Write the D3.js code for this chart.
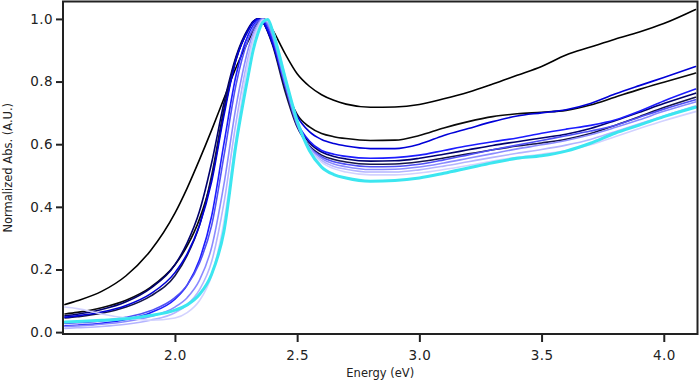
<!DOCTYPE html>
<html>
<head>
<meta charset="utf-8">
<script src="https://cdn.jsdelivr.net/npm/d3@7"></script>
<style>
  html, body { margin: 0; padding: 0; background: #fff; }
  svg { display: block; }
  text { font-family: "DejaVu Sans", Verdana, sans-serif; fill: #222; }
</style>
</head>
<body>
<div id="chart"></div>
<script>
// ---- data ----
const energy = [1.55,1.6,1.7,1.8,1.9,2.0,2.05,2.1,2.15,2.2,2.25,2.3,2.32,2.34,2.36,2.38,2.4,2.45,2.5,2.55,2.6,2.65,2.7,2.8,2.9,3.0,3.1,3.2,3.3,3.4,3.5,3.6,3.7,3.8,3.9,4.0,4.13];

const spectrum1  = [0.088,0.1,0.13,0.18,0.26,0.38,0.46,0.55,0.645,0.745,0.845,0.93,0.96,0.99,1.0,0.99,0.965,0.89,0.825,0.785,0.758,0.74,0.728,0.718,0.719,0.727,0.745,0.766,0.792,0.82,0.848,0.885,0.91,0.935,0.958,0.985,1.03];
const spectrum2  = [0.058,0.063,0.078,0.102,0.143,0.215,0.275,0.36,0.49,0.7,0.87,0.965,0.99,1.0,0.99,0.965,0.93,0.79,0.695,0.655,0.634,0.624,0.618,0.612,0.613,0.628,0.652,0.672,0.688,0.697,0.702,0.708,0.725,0.75,0.775,0.798,0.827];
const spectrum3  = [0.048,0.052,0.064,0.085,0.122,0.19,0.25,0.34,0.48,0.69,0.87,0.965,0.99,1.0,0.99,0.96,0.92,0.79,0.69,0.64,0.615,0.602,0.594,0.586,0.586,0.6,0.628,0.65,0.672,0.69,0.7,0.71,0.73,0.76,0.787,0.813,0.848];
const spectrum4  = [0.02,0.022,0.028,0.04,0.062,0.105,0.15,0.23,0.37,0.6,0.82,0.95,0.98,0.997,0.995,0.97,0.93,0.79,0.67,0.61,0.58,0.568,0.561,0.555,0.557,0.565,0.58,0.595,0.608,0.62,0.635,0.648,0.66,0.677,0.705,0.738,0.776];
const spectrum5  = [0.052,0.057,0.072,0.097,0.14,0.215,0.285,0.385,0.54,0.73,0.88,0.97,0.992,1.0,0.99,0.96,0.92,0.78,0.665,0.605,0.575,0.561,0.553,0.546,0.547,0.555,0.568,0.582,0.596,0.608,0.62,0.632,0.65,0.675,0.702,0.73,0.763];
const spectrum6  = [0.045,0.049,0.06,0.08,0.115,0.18,0.245,0.34,0.5,0.71,0.875,0.965,0.99,1.0,0.99,0.958,0.915,0.77,0.655,0.595,0.565,0.551,0.543,0.536,0.537,0.544,0.556,0.569,0.582,0.594,0.604,0.616,0.634,0.66,0.688,0.717,0.75];
const spectrum7  = [0.028,0.03,0.036,0.047,0.068,0.11,0.15,0.22,0.34,0.56,0.79,0.935,0.97,0.993,1.0,0.98,0.94,0.79,0.66,0.592,0.56,0.544,0.536,0.528,0.529,0.536,0.55,0.566,0.582,0.597,0.612,0.627,0.642,0.66,0.686,0.712,0.742];
const spectrum8  = [0.018,0.02,0.025,0.034,0.05,0.08,0.11,0.165,0.27,0.47,0.72,0.905,0.955,0.985,1.0,0.985,0.945,0.8,0.665,0.59,0.555,0.537,0.528,0.519,0.52,0.527,0.54,0.555,0.57,0.585,0.598,0.612,0.63,0.653,0.678,0.705,0.735];
const spectrum9  = [0.012,0.014,0.018,0.025,0.038,0.062,0.088,0.135,0.225,0.41,0.67,0.88,0.94,0.978,0.998,0.99,0.955,0.81,0.67,0.585,0.548,0.529,0.52,0.511,0.511,0.518,0.53,0.544,0.558,0.571,0.583,0.597,0.615,0.64,0.665,0.69,0.722];
const spectrum10 = [0.08,0.075,0.058,0.045,0.038,0.045,0.062,0.1,0.18,0.35,0.62,0.86,0.93,0.972,0.996,0.995,0.965,0.82,0.675,0.585,0.543,0.522,0.511,0.502,0.502,0.508,0.519,0.532,0.546,0.558,0.568,0.58,0.598,0.624,0.65,0.675,0.704];
const spectrum11 = [0.032,0.034,0.038,0.043,0.053,0.07,0.087,0.12,0.185,0.32,0.6,0.82,0.9,0.955,0.99,0.998,0.96,0.815,0.675,0.58,0.527,0.503,0.492,0.482,0.484,0.492,0.507,0.524,0.541,0.555,0.563,0.578,0.603,0.635,0.661,0.688,0.718];

const xTicks = [2.0, 2.5, 3.0, 3.5, 4.0];
const yTicks = [0.0, 0.2, 0.4, 0.6, 0.8, 1.0];
const xLabel = "Energy (eV)";
const yLabel = "Normalized Abs. (A.U.)";

// ---- styles (drawing order) ----
const series = [
  { values: spectrum1,  color: "#000000", width: 1.6 },
  { values: spectrum2,  color: "#0a0a0a", width: 1.6 },
  { values: spectrum5,  color: "#00006e", width: 1.6 },
  { values: spectrum6,  color: "#15154a", width: 1.6 },
  { values: spectrum3,  color: "#0000d8", width: 1.6 },
  { values: spectrum4,  color: "#1c1cff", width: 1.6 },
  { values: spectrum7,  color: "#5050f5", width: 1.6 },
  { values: spectrum8,  color: "#8a8aff", width: 1.6 },
  { values: spectrum9,  color: "#b4b4ff", width: 1.6 },
  { values: spectrum10, color: "#d2d2ff", width: 1.6 },
  { values: spectrum11, color: "#3ce6f0", width: 3.0 }
];

// ---- layout ----
const W = 700, H = 382;
const mLeft = 63, mRight = 697.5, mTop = 1.5, mBottom = 334;

const svg = d3.select("#chart").append("svg")
  .attr("width", W).attr("height", H);

const x = d3.scaleLinear().domain([1.542, 4.14]).range([mLeft, mRight + 0.5]);
const y = d3.scaleLinear().domain([-0.006, 1.054]).range([mBottom, mTop + 0.5]);

svg.append("clipPath").attr("id", "clip")
  .append("rect").attr("x", mLeft).attr("y", mTop).attr("width", mRight - mLeft).attr("height", mBottom - mTop);

const line = d3.line()
  .x((d, i) => x(energy[i]))
  .y(d => y(d))
  .curve(d3.curveMonotoneX);

const g = svg.append("g").attr("clip-path", "url(#clip)");
g.selectAll("path.spec").data(series).enter().append("path")
  .attr("class", "spec")
  .attr("d", d => line(d.values))
  .attr("fill", "none")
  .attr("stroke", d => d.color)
  .attr("stroke-width", d => d.width)
  .attr("stroke-linejoin", "round")
  .attr("stroke-linecap", "round");

// frame
svg.append("rect")
  .attr("x", mLeft).attr("y", mTop)
  .attr("width", mRight - mLeft).attr("height", mBottom - mTop)
  .attr("fill", "none").attr("stroke", "#222").attr("stroke-width", 2);

// axes
const xAxis = d3.axisBottom(x).tickValues(xTicks).tickFormat(d3.format(".1f"))
  .tickSize(8).tickSizeOuter(0).tickPadding(8);
const gx = svg.append("g").attr("transform", `translate(0,${mBottom})`).call(xAxis);
gx.select(".domain").remove();
gx.selectAll(".tick line").attr("stroke", "#222").attr("stroke-width", 2);
gx.selectAll(".tick text").attr("font-size", 13.5).attr("fill", "#222")
  .style("font-family", "'DejaVu Sans', Verdana, sans-serif").style("letter-spacing", "0.4px");

const yAxis = d3.axisLeft(y).tickValues(yTicks).tickFormat(d3.format(".1f"))
  .tickSize(7).tickSizeOuter(0).tickPadding(3);
const gy = svg.append("g").attr("transform", `translate(${mLeft},0)`).call(yAxis);
gy.select(".domain").remove();
gy.selectAll(".tick line").attr("stroke", "#222").attr("stroke-width", 2);
gy.selectAll(".tick text").attr("font-size", 13.5).attr("fill", "#222")
  .style("font-family", "'DejaVu Sans', Verdana, sans-serif").style("letter-spacing", "0.4px");

// axis titles
svg.append("text")
  .attr("x", (mLeft + mRight) / 2).attr("y", 377)
  .attr("text-anchor", "middle").attr("font-size", 11.5)
  .text(xLabel);

svg.append("text")
  .attr("transform", `translate(12,${(mTop + mBottom) / 2}) rotate(-90)`)
  .attr("text-anchor", "middle").attr("font-size", 11.5)
  .text(yLabel);
</script>
</body>
</html>
